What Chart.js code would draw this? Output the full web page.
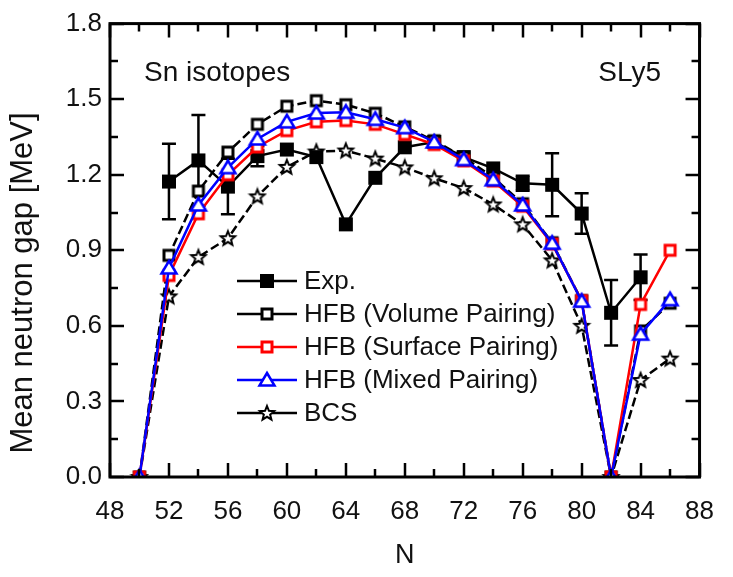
<!DOCTYPE html>
<html><head><meta charset="utf-8">
<script src="https://cdn.jsdelivr.net/npm/chart.js@4.4.0/dist/chart.umd.min.js"></script>
<style>html,body{margin:0;padding:0;background:#fff;}#wrap{width:733px;height:577px;position:relative;}</style>
</head><body><div id="wrap"><canvas id="c" width="733" height="577"></canvas></div>
<script>
// ---- data ----
const N        = [50, 52, 54, 56, 58, 60, 62, 64, 66, 68, 70, 72, 74, 76, 78, 80, 82, 84, 86];
const volume   = [0, 0.88, 1.135, 1.29, 1.40, 1.472, 1.494, 1.478, 1.444, 1.39, 1.335, 1.27, 1.19, 1.085, 0.93, 0.70, 0, 0.58, 0.69];
const surface  = [0, 0.80, 1.045, 1.20, 1.31, 1.375, 1.41, 1.415, 1.40, 1.36, 1.32, 1.255, 1.175, 1.075, 0.925, 0.70, 0, 0.685, 0.90];
const mixed    = [0, 0.83, 1.08, 1.228, 1.342, 1.41, 1.445, 1.448, 1.42, 1.387, 1.33, 1.26, 1.18, 1.08, 0.928, 0.698, 0, 0.567, 0.704];
const bcs      = [0, 0.717, 0.873, 0.948, 1.114, 1.231, 1.292, 1.296, 1.264, 1.229, 1.186, 1.147, 1.082, 1.003, 0.86, 0.60, 0, 0.385, 0.47];
const expN     = [52, 54, 56, 58, 60, 62, 64, 66, 68, 70, 72, 74, 76, 78, 80, 82, 84];
const expGap   = [1.173, 1.257, 1.153, 1.274, 1.30, 1.27, 1.003, 1.188, 1.309, 1.33, 1.27, 1.225, 1.166, 1.16, 1.046, 0.652, 0.793];
const expErr   = [0.15, 0.18, 0.11, 0.04, 0, 0, 0, 0, 0, 0, 0, 0, 0.03, 0.125, 0.08, 0.13, 0.09];
const xTickValues = [48, 52, 56, 60, 64, 68, 72, 76, 80, 84, 88];
const yTickValues = [0.0, 0.3, 0.6, 0.9, 1.2, 1.5, 1.8];
const labels = ['Exp.', 'HFB (Volume Pairing)', 'HFB (Surface Pairing)', 'HFB (Mixed Pairing)', 'BCS'];

const FONT = '"Liberation Sans", Arial, sans-serif';
const TXT = '#111';
Chart.defaults.font.family = FONT;

// ---- marker images ----
function mk(draw, s) {
  const c = document.createElement('canvas'); c.width = s; c.height = s;
  const g = c.getContext('2d'); draw(g, s / 2); return c;
}
const mFilledSq = mk((g, m) => { g.fillStyle = '#000'; g.fillRect(m - 7, m - 7, 14, 14); }, 20);
const openSq = (col) => mk((g, m) => { g.fillStyle = '#fff'; g.fillRect(m - 5, m - 5, 10, 10); g.strokeStyle = col; g.lineWidth = 3; g.strokeRect(m - 5, m - 5, 10, 10); }, 20);
const mVolSq = openSq('#000');
const mSurfSq = openSq('#ff0000');
const mTri = mk((g, m) => {
  g.beginPath(); g.moveTo(m, m - 7); g.lineTo(m + 7.5, m + 5.5); g.lineTo(m - 7.5, m + 5.5); g.closePath();
  g.fillStyle = '#fff'; g.fill(); g.strokeStyle = '#0000ff'; g.lineWidth = 2.5; g.lineJoin = 'miter'; g.stroke();
}, 22);
const mStar = mk((g, m) => {
  g.beginPath();
  for (let i = 0; i < 10; i++) {
    const r = i % 2 === 0 ? 7.5 : 3.3;
    const a = -Math.PI / 2 + i * Math.PI / 5;
    const px = m + r * Math.cos(a), py = m + 0.5 + r * Math.sin(a);
    if (i === 0) g.moveTo(px, py); else g.lineTo(px, py);
  }
  g.closePath(); g.fillStyle = '#fff'; g.fill(); g.strokeStyle = '#000'; g.lineWidth = 2; g.lineJoin = 'miter'; g.stroke();
}, 20);

const pts = (xs, ys) => xs.map((x, i) => ({ x: x, y: ys[i] }));

function ds(label, data, color, marker, order, dash) {
  return {
    label, data, borderColor: color, backgroundColor: color, borderWidth: 2.5,
    borderDash: dash || [], pointStyle: marker, pointRadius: 7, pointHoverRadius: 7,
    tension: 0, fill: false, order, clip: 0
  };
}

const datasets = [
  ds(labels[0], pts(expN, expGap), '#000', mFilledSq, 3),
  ds(labels[1], pts(N, volume), '#000', mVolSq, 2, [9, 4]),
  ds(labels[2], pts(N, surface), '#ff0000', mSurfSq, 1),
  ds(labels[3], pts(N, mixed), '#0000ff', mTri, 0),
  ds(labels[4], pts(N, bcs), '#000', mStar, 4, [9, 4])
];
const legendMarkers = [mFilledSq, mVolSq, mSurfSq, mTri, mStar];
const legendColors = ['#000', '#000', '#ff0000', '#0000ff', '#000'];

const errPlugin = {
  id: 'err',
  beforeDatasetsDraw(chart) {
    const { ctx, scales: { x, y } } = chart;
    ctx.save(); ctx.strokeStyle = '#000'; ctx.lineWidth = 2.5;
    expN.forEach((n, i) => {
      const e = expErr[i]; if (!e) return;
      const px = x.getPixelForValue(n);
      const y1 = y.getPixelForValue(expGap[i] + e), y2 = y.getPixelForValue(expGap[i] - e);
      ctx.beginPath();
      ctx.moveTo(px, y1); ctx.lineTo(px, y2);
      ctx.moveTo(px - 7, y1); ctx.lineTo(px + 7, y1);
      ctx.moveTo(px - 7, y2); ctx.lineTo(px + 7, y2);
      ctx.stroke();
    });
    ctx.restore();
  }
};

const framePlugin = {
  id: 'frame',
  afterDraw(chart) {
    const { ctx, chartArea: { left, right, top, bottom }, scales: { x, y } } = chart;
    ctx.save(); ctx.strokeStyle = '#000';
    ctx.lineWidth = 2.5;
    ctx.beginPath();
    for (let v = 48; v <= 88; v += 2) {
      const px = Math.round(x.getPixelForValue(v));
      const L = (v % 4 === 0) ? 14 : 8;
      ctx.moveTo(px, bottom); ctx.lineTo(px, bottom - L);
      ctx.moveTo(px, top); ctx.lineTo(px, top + L);
    }
    for (let k = 0; k <= 12; k++) {
      const py = Math.round(y.getPixelForValue(k * 0.15));
      const L = (k % 2 === 0) ? 14 : 8;
      ctx.moveTo(left, py); ctx.lineTo(left + L, py);
      ctx.moveTo(right, py); ctx.lineTo(right - L, py);
    }
    ctx.stroke();
    ctx.lineWidth = 3;
    ctx.strokeRect(left, top, right - left, bottom - top);

    // y-axis title
    ctx.fillStyle = TXT;
    ctx.save();
    ctx.translate(23, 283);
    ctx.rotate(-Math.PI / 2);
    ctx.font = '31px ' + FONT;
    ctx.textAlign = 'center'; ctx.textBaseline = 'middle';
    ctx.fillText('Mean neutron gap [MeV]', 0, 0);
    ctx.restore();

    // annotations
    ctx.font = '28px ' + FONT;
    ctx.textBaseline = 'middle';
    ctx.textAlign = 'left';
    ctx.fillText('Sn isotopes', 144, 73);
    ctx.textAlign = 'right';
    ctx.fillText('SLy5', 661, 73);

    // legend
    ctx.font = '26px ' + FONT;
    ctx.textAlign = 'left';
    const rows = [281, 314, 347, 380, 413];
    labels.forEach((lab, i) => {
      const ry = rows[i];
      ctx.strokeStyle = legendColors[i]; ctx.lineWidth = 2.5; ctx.setLineDash([]);
      ctx.beginPath(); ctx.moveTo(237, ry); ctx.lineTo(297, ry); ctx.stroke();
      const m = legendMarkers[i];
      ctx.drawImage(m, 267 - m.width / 2, ry - m.height / 2);
      ctx.fillStyle = TXT;
      ctx.fillText(lab, 304, ry + 1);
    });
    ctx.restore();
  }
};

new Chart(document.getElementById('c'), {
  type: 'line',
  data: { datasets },
  options: {
    responsive: false, animation: false, devicePixelRatio: 1,
    layout: { padding: { left: 0, right: 18, top: 16, bottom: 0 } },
    plugins: { legend: { display: false }, tooltip: { enabled: false } },
    scales: {
      x: {
        type: 'linear', min: 48, max: 88,
        afterBuildTicks: (s) => { s.ticks = xTickValues.map(v => ({ value: v })); },
        afterFit: (s) => { s.height = 100; },
        grid: { display: false, drawTicks: false }, border: { display: false },
        ticks: { font: { size: 26 }, color: TXT, padding: 19, maxRotation: 0, autoSkip: false, callback: v => String(v) },
        title: { display: true, text: 'N', font: { size: 27 }, color: TXT, padding: { top: 0, bottom: 5 } }
      },
      y: {
        type: 'linear', min: 0, max: 1.8,
        afterBuildTicks: (s) => { s.ticks = yTickValues.map(v => ({ value: v })); },
        afterFit: (s) => { s.width = 110; },
        grid: { display: false, drawTicks: false }, border: { display: false },
        ticks: { font: { size: 26 }, color: TXT, padding: 8, autoSkip: false, callback: v => Number(v).toFixed(1) },
        title: { display: false }
      }
    }
  },
  plugins: [errPlugin, framePlugin]
});
</script>
</body></html>
